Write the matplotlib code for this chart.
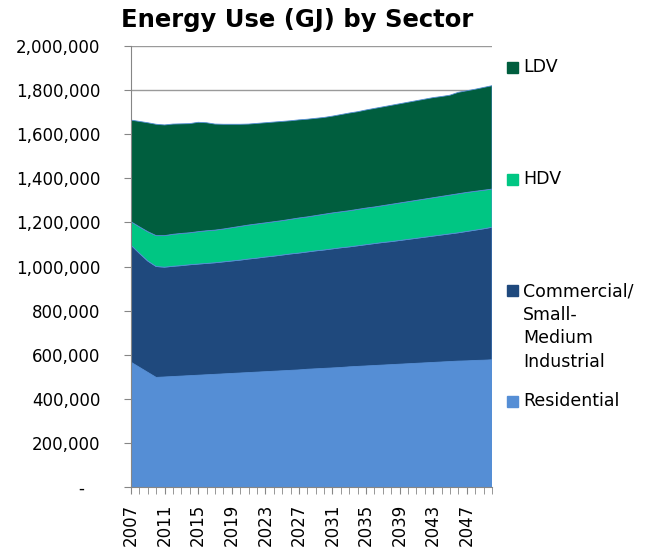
import matplotlib
matplotlib.use('Agg')
import matplotlib.pyplot as plt
from matplotlib.ticker import FuncFormatter, MultipleLocator
from matplotlib.patches import Rectangle
import numpy as np

# energy use by sector, thousand GJ
years = list(range(2007, 2051))
residential = [566, 543, 520, 497, 499, 501, 503, 505, 507, 509,
               511, 513, 515, 517, 519, 521, 523, 525, 527, 529,
               531, 534, 536, 538, 540, 542, 545, 547, 549, 551,
               553, 555, 557, 559, 561, 563, 565, 567, 569, 571,
               572, 574, 575, 577]
commercial = [531, 517, 505, 503, 498, 500, 501, 503, 504, 505,
              506, 508, 510, 512, 515, 517, 520, 522, 525, 528,
              530, 532, 535, 537, 540, 543, 544, 547, 550, 553,
              556, 558, 561, 564, 567, 570, 573, 576, 579, 582,
              587, 591, 596, 601]
hdv = [106, 120, 133, 140, 143, 145, 146, 145, 147, 148,
       148, 149, 151, 153, 154, 155, 155, 156, 156, 157,
       159, 159, 160, 162, 163, 163, 164, 165, 166, 166,
       167, 169, 170, 171, 172, 173, 174, 175, 176, 177,
       177, 176, 175, 173]
ldv = [461, 478, 494, 505, 502, 500, 497, 495, 496, 490,
       481, 475, 469, 463, 458, 456, 454, 452, 450, 447,
       445, 443, 441, 439, 439, 441, 443, 443, 445, 447,
       448, 449, 450, 451, 452, 453, 454, 453, 453, 460,
       461, 463, 466, 469]

labels = ['Residential', 'Commercial/\nSmall-\nMedium\nIndustrial', 'HDV', 'LDV']
colors = ['#558ED5', '#1F497D', '#00C683', '#005E3E']

series = [np.array(s) * 1000 for s in (residential, commercial, hdv, ldv)]

fig = plt.figure(figsize=(6.48, 5.54), dpi=100)
ax = fig.add_axes([131/648, 1 - 487/554, (492-131)/648, (487-46)/554])

ax.stackplot(years, *series, colors=colors, linewidth=0.6,
             edgecolors=colors, zorder=2)

ax.set_xlim(2007, 2050)
ax.set_ylim(0, 2000000)
ax.yaxis.set_major_locator(MultipleLocator(200000))
ax.yaxis.set_major_formatter(FuncFormatter(
    lambda v, p: '-   ' if v == 0 else f'{v:,.0f}'))
ax.set_xticks(years[::4])
ax.set_xticks(years, minor=True)
ax.tick_params(axis='x', which='both', labelrotation=90, labelsize=12,
               length=5, color='#868686', pad=7, direction='out')
ax.tick_params(axis='y', labelsize=12, length=5, color='#868686', pad=17)
ax.grid(axis='y', color='#9a9a9a', linewidth=1, zorder=0)
ax.set_axisbelow(True)
for s in ['top', 'right']:
    ax.spines[s].set_visible(False)
for s in ['left', 'bottom']:
    ax.spines[s].set_color('#868686')
    ax.spines[s].set_zorder(3)

fig.text(297/648, 1 - 20/554, 'Energy Use (GJ) by Sector', ha='center',
         va='center', fontsize=17.5, fontweight='bold')

# legend on the right, entries spaced like the original
legend_y = [67, 179, 291, 401]
for lab, col, y in zip(labels[::-1], colors[::-1], legend_y):
    fig.patches.append(Rectangle((507/648, 1 - (y + 5.5)/554), 11/648, 11/554,
                                 transform=fig.transFigure, color=col))
    fig.text(523/648, 1 - (y - 9)/554, lab, ha='left', va='top',
             fontsize=12.5, linespacing=1.4)

fig.savefig('out.png', dpi=100)
